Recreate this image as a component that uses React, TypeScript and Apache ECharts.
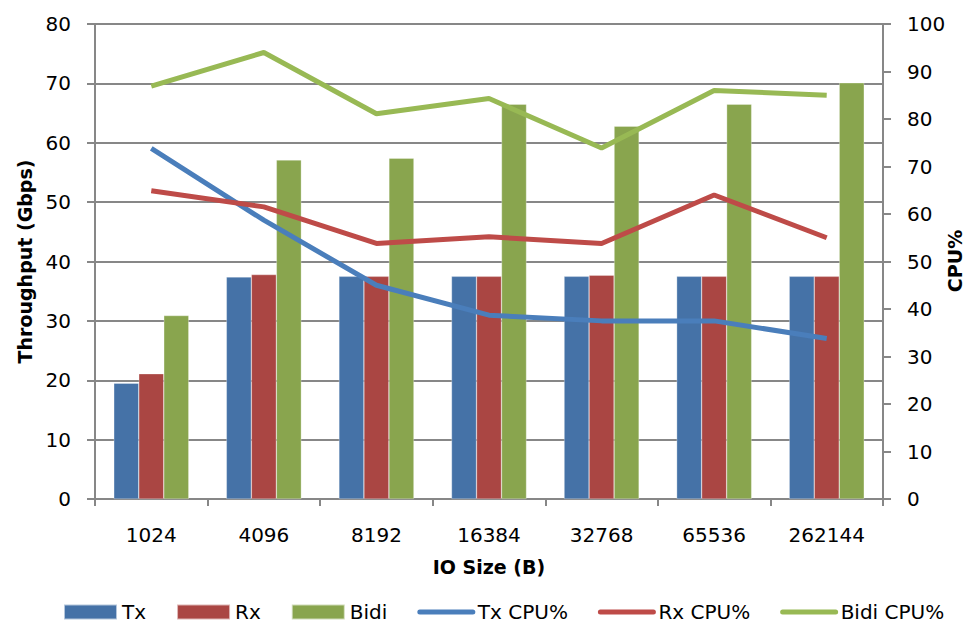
import React, { useEffect, useRef } from "react";
import * as echarts from "echarts";

const categories = ["1024", "4096", "8192", "16384", "32768", "65536", "262144"];
const txThroughput = [19.5, 37.4, 37.5, 37.5, 37.5, 37.5, 37.5];
const rxThroughput = [21.1, 37.8, 37.5, 37.5, 37.7, 37.5, 37.5];
const bidiThroughput = [30.9, 57.1, 57.4, 66.5, 62.8, 66.5, 70.1];
const txCpu = [73.8, 58.7, 45.0, 38.7, 37.5, 37.5, 33.8];
const rxCpu = [64.9, 61.5, 53.8, 55.2, 53.8, 64.0, 55.0];
const bidiCpu = [86.9, 94.0, 81.1, 84.3, 73.9, 86.0, 85.0];

const FONT = "DejaVu Sans";

export default function App() {
  const ref = useRef<HTMLDivElement>(null);
  useEffect(() => {
    if (!ref.current) return;
    const chart = echarts.init(ref.current, null, { renderer: "svg" });
    const grey = "#878787";
    const barStyle = (c: string) => ({ color: c, borderColor: "rgba(255,255,255,0.6)", borderWidth: 0.5 });
    const lineLegend = (name: string, c: string) => ({
      name,
      itemStyle: { opacity: 0 },
      lineStyle: { color: c, width: 5, cap: "round" },
    });
    chart.setOption({
      animation: false,
      textStyle: { fontFamily: FONT, color: "#000" },
      grid: { left: 95, right: 84, top: 24, bottom: 125, containLabel: false, outerBoundsMode: "none" },
      graphic: [
        {
          type: "text",
          x: 955,
          y: 261,
          rotation: Math.PI / 2,
          style: {
            text: "CPU%",
            fontFamily: FONT,
            fontSize: 19,
            fontWeight: "bold",
            fill: "#000",
            align: "center",
            verticalAlign: "middle",
          },
        },
      ],
      legend: {
        top: 597,
        left: 58,
        itemWidth: 53,
        itemHeight: 15,
        itemGap: 30,
        textStyle: { fontFamily: FONT, fontSize: 20, color: "#000" },
        data: [
          { name: "Tx", icon: "rect" },
          { name: "Rx", icon: "rect" },
          { name: "Bidi", icon: "rect" },
          lineLegend("Tx CPU%", "#4A7EBB"),
          lineLegend("Rx CPU%", "#BE4B48"),
          lineLegend("Bidi CPU%", "#98B954"),
        ],
      },
      xAxis: {
        type: "category",
        data: categories,
        name: "IO Size (B)",
        nameLocation: "middle",
        nameGap: 58,
        nameTextStyle: { fontFamily: FONT, fontSize: 19, fontWeight: "bold", color: "#000" },
        axisLine: { lineStyle: { color: grey, width: 2 } },
        axisTick: { show: true, length: 7, lineStyle: { color: grey, width: 2 } },
        axisLabel: { fontFamily: FONT, fontSize: 20, color: "#000", margin: 26 },
      },
      yAxis: [
        {
          type: "value",
          min: 0,
          max: 80,
          interval: 10,
          name: "Throughput (Gbps)",
          nameLocation: "middle",
          nameRotate: 90,
          nameGap: 54,
          nameTextStyle: { fontFamily: FONT, fontSize: 19, fontWeight: "bold", color: "#000" },
          axisLine: { show: true, lineStyle: { color: grey, width: 2 } },
          axisTick: { show: true, length: 8, lineStyle: { color: grey, width: 2 } },
          axisLabel: { fontFamily: FONT, fontSize: 20, color: "#000", margin: 24 },
          splitLine: { show: true, lineStyle: { color: grey, width: 2 } },
        },
        {
          type: "value",
          min: 0,
          max: 100,
          interval: 10,
          position: "right",
          axisLine: { show: true, lineStyle: { color: grey, width: 2 } },
          axisTick: { show: true, length: 8, lineStyle: { color: grey, width: 2 } },
          axisLabel: { fontFamily: FONT, fontSize: 20, color: "#000", margin: 24 },
          splitLine: { show: false },
        },
      ],
      series: [
        { name: "Tx", type: "bar", data: txThroughput, barWidth: 25, barGap: "0%", itemStyle: barStyle("#4572A7") },
        { name: "Rx", type: "bar", data: rxThroughput, barWidth: 25, barGap: "0%", itemStyle: barStyle("#AA4643") },
        { name: "Bidi", type: "bar", data: bidiThroughput, barWidth: 25, barGap: "0%", itemStyle: barStyle("#89A54E") },
        { name: "Tx CPU%", type: "line", yAxisIndex: 1, data: txCpu, symbol: "none", color: "#4A7EBB", lineStyle: { width: 5, color: "#4A7EBB" }, z: 5 },
        { name: "Rx CPU%", type: "line", yAxisIndex: 1, data: rxCpu, symbol: "none", color: "#BE4B48", lineStyle: { width: 5, color: "#BE4B48" }, z: 5 },
        { name: "Bidi CPU%", type: "line", yAxisIndex: 1, data: bidiCpu, symbol: "none", color: "#98B954", lineStyle: { width: 5, color: "#98B954" }, z: 5 },
      ],
    });
    return () => chart.dispose();
  }, []);
  return <div ref={ref} style={{ position: "absolute", left: 0, top: 0, width: 967, height: 624 }} />;
}
